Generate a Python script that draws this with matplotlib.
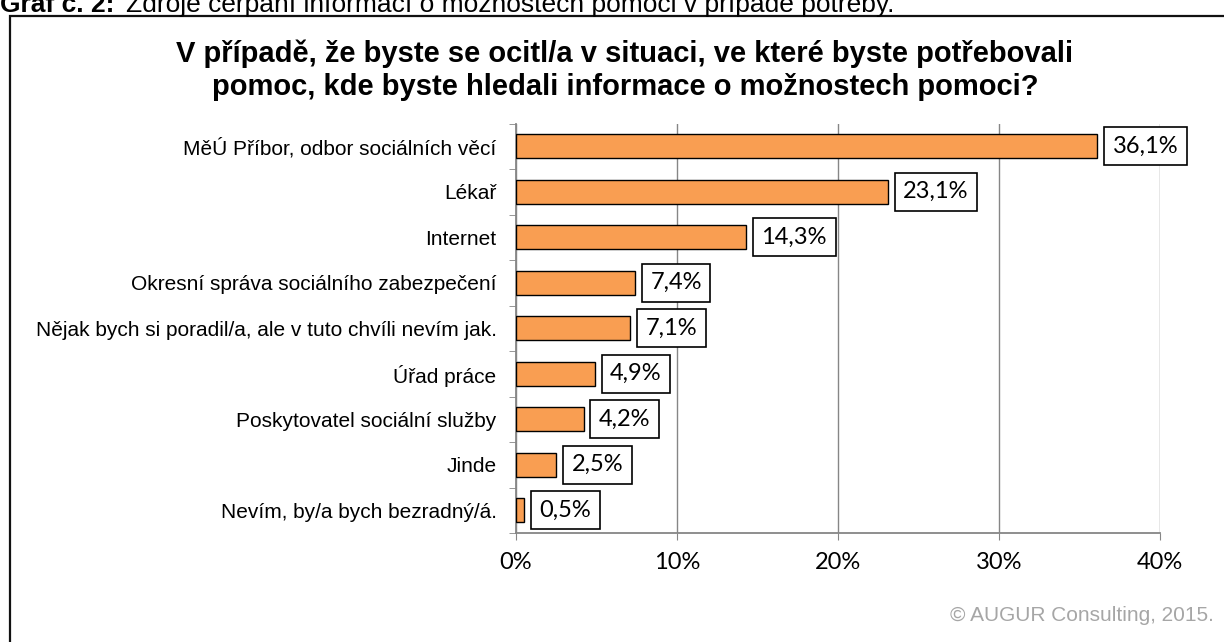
import matplotlib.pyplot as plt
from matplotlib.patches import Rectangle
from matplotlib.ticker import FixedLocator

categories = [
    "MěÚ Příbor, odbor sociálních věcí",
    "Lékař",
    "Internet",
    "Okresní správa sociálního zabezpečení",
    "Nějak bych si poradil/a, ale v tuto chvíli nevím jak.",
    "Úřad práce",
    "Poskytovatel sociální služby",
    "Jinde",
    "Nevím, by/a bych bezradný/á.",
]
values = [36.1, 23.1, 14.3, 7.4, 7.1, 4.9, 4.2, 2.5, 0.5]
xticks = [0, 10, 20, 30, 40]

title = ("V případě, že byste se ocitl/a v situaci, ve které byste potřebovali\n"
         "pomoc, kde byste hledali informace o možnostech pomoci?")

W, H = 1224, 642
fig = plt.figure(figsize=(W / 100, H / 100), dpi=100)
fig.patch.set_facecolor('white')

grey = '#868686'
ax = fig.add_axes([516 / W, 1 - 533 / H, (1160 - 516) / W, (533 - 123.5) / H])

pos = list(range(len(categories)))
ax.barh(pos, values, height=0.53, color='#F99E52', edgecolor='black', linewidth=1.0, zorder=3)

ax.set_xlim(0, 40)
ax.set_ylim(len(categories) - 0.5, -0.5)
ax.set_xticks(xticks)
ax.set_xticklabels([f"{t}%" for t in xticks], fontfamily='Lato', fontsize=17)
ax.set_yticks(pos)
ax.set_yticklabels(categories, fontfamily='Liberation Sans', fontsize=15)
ax.yaxis.set_minor_locator(FixedLocator([p - 0.5 for p in pos] + [len(pos) - 0.5]))
ax.tick_params(axis='y', which='major', length=0, pad=14)
ax.tick_params(axis='y', which='minor', length=5, color=grey, direction='out')
ax.tick_params(axis='x', length=5, color=grey, direction='out', pad=9)

ax.grid(axis='x', color=grey, linewidth=1.0, zorder=0)
for s in ['top', 'right']:
    ax.spines[s].set_visible(False)
for s in ['left', 'bottom']:
    ax.spines[s].set_color(grey)
    ax.spines[s].set_linewidth(1.3)

for p, v in zip(pos, values):
    ax.annotate(f"{v:.1f}%".replace('.', ','), xy=(v, p), xytext=(11, 0),
                textcoords='offset points', ha='left', va='center',
                fontfamily='Lato', fontsize=17, zorder=4,
                bbox=dict(boxstyle='square,pad=0.36', facecolor='white',
                          edgecolor='black', linewidth=1.2))

# chart title
fig.text(625 / W, 1 - 70 / H, title, ha='center', va='center', fontsize=21,
         fontweight='bold', fontfamily='Liberation Sans', linespacing=1.25)

# outer frame (right and bottom edges fall outside the image)
fig.add_artist(Rectangle((10 / W, -0.1), 1.2, 1.1 - 16 / H, transform=fig.transFigure,
                         fill=False, edgecolor='#111111', linewidth=1.6))

# caption cut off at the top edge, as in the source page
fig.text(0.0, 1 - 12 / H, "Graf č. 2:", ha='left', va='baseline', fontsize=19,
         fontweight='bold', fontfamily='Liberation Sans')
fig.text(126 / W, 1 - 12 / H, "Zdroje čerpání informací o možnostech pomoci v případě potřeby.",
         ha='left', va='baseline', fontsize=19, fontfamily='Liberation Sans')

fig.text(1214 / W, 1 - 621 / H, "© AUGUR Consulting, 2015.", ha='right', va='baseline',
         fontsize=15, color='#A6A6A6', fontfamily='Liberation Sans')

fig.savefig('out.png', dpi=100)
